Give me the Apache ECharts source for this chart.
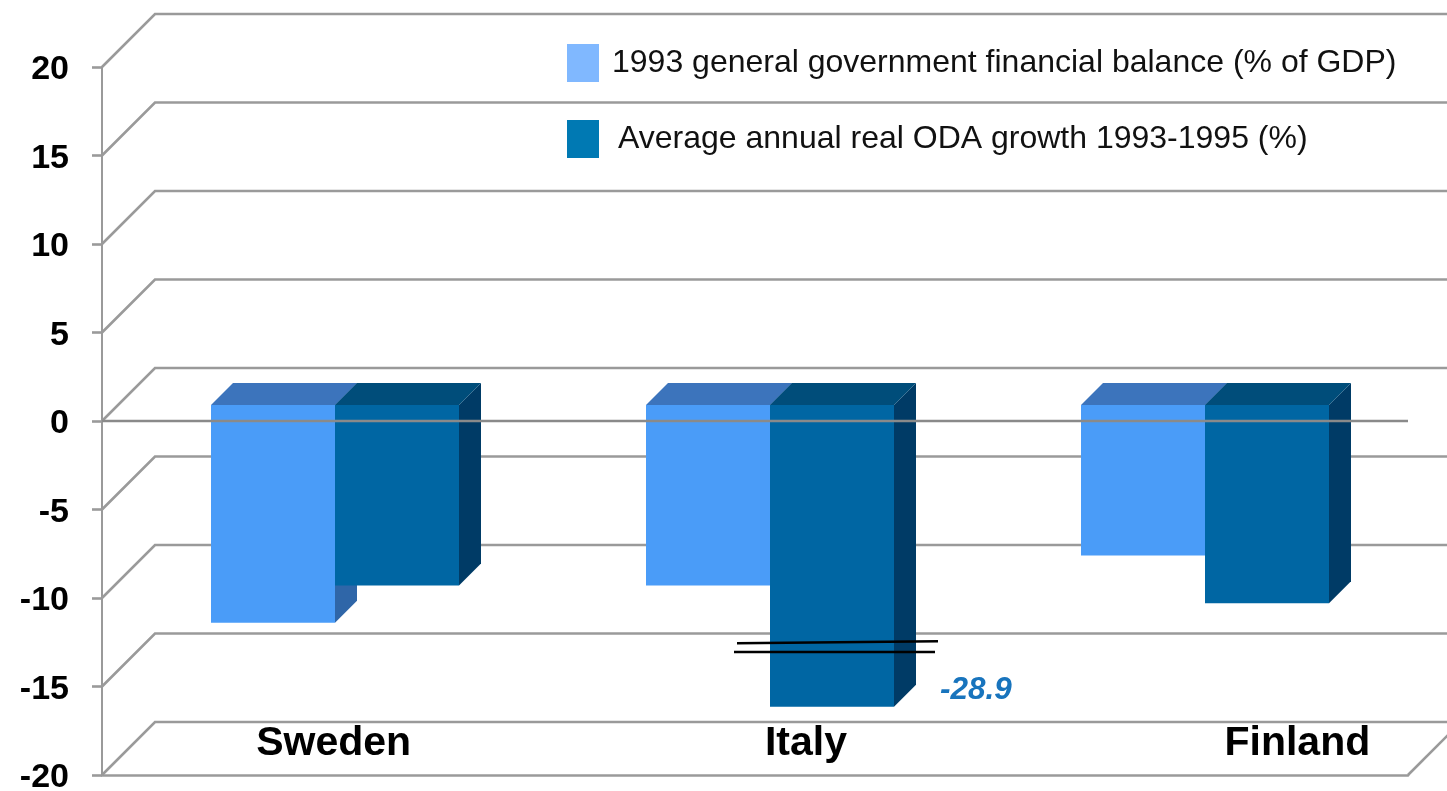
<!DOCTYPE html>
<html lang="en">
<head>
    <meta charset="UTF-8">
    <title>ODA growth and financial balance</title>
    <script src="https://cdn.jsdelivr.net/npm/echarts@6/dist/echarts.min.js"></script>
    <style>
        html, body { margin: 0; padding: 0; background: #fff; overflow: hidden; }
    </style>
</head>
<body>
<div id="main" style="width: 1447px;height:791px;"></div>
<script type="text/javascript">
    var categories = ['Sweden', 'Italy', 'Finland'];
    var balanceName = '1993 general government financial balance (% of GDP)';
    var odaName = 'Average annual real ODA growth 1993-1995 (%)';
    var balanceValues = [-12.3, -10.2, -8.5];
    // Italy's ODA bar is cut off in the picture, the real value is the label -28.9
    var odaValues = [-10.2, -17.05, -11.2];
    var tickValues = [-20, -15, -10, -5, 0, 5, 10, 15, 20];
    var brokenLabel = '-28.9';
    var brokenCategory = 1;
    var breakValues = [-12.5, -13.05];

    var font = '"Liberation Sans", Arial, sans-serif';
    var gridColor = '#9a9a9a';
    var wallDepth = 53;   // depth of the fake 3d box
    var barInset = 16;    // how far the bars sit behind the front plane
    var barDepth = 22;
    var barRatio = 124 / 435.33;

    // side: -1 = bar on the left of the category centre, 1 = on the right
    function barRenderer(side, front, top, right) {
        return function (params, api) {
            var base = api.coord([api.value(0), 0]);
            var end = api.coord([api.value(0), api.value(1)]);
            var w = Math.round(api.size([1, 0])[0] * barRatio);
            // rounded so no gap shows between the two bars
            var x0 = Math.round(base[0] + barInset - 1) + (side < 0 ? -w : 0);
            var x1 = x0 + w;
            var y0 = base[1] - barInset;
            var y1 = end[1] - barInset;
            return {
                type: 'group',
                children: [
                    {
                        type: 'polygon',
                        shape: {points: [[x1, y0], [x1 + barDepth, y0 - barDepth], [x1 + barDepth, y1 - barDepth], [x1, y1]]},
                        style: {fill: right}
                    },
                    {
                        type: 'polygon',
                        shape: {points: [[x0, y0], [x0 + barDepth, y0 - barDepth], [x1 + barDepth, y0 - barDepth], [x1, y0]]},
                        style: {fill: top}
                    },
                    {
                        type: 'rect',
                        shape: {x: x0, y: y0, width: w, height: y1 - y0},
                        style: {fill: front}
                    }
                ]
            };
        };
    }

    // back wall line + the diagonal going to the front plane
    function renderWall(params, api) {
        var cs = params.coordSys;
        var y = api.coord([0, api.value(1)])[1];
        return {
            type: 'polyline',
            shape: {points: [[cs.x, y], [cs.x + wallDepth, y - wallDepth], [cs.x + cs.width + wallDepth, y - wallDepth]]},
            style: {stroke: gridColor, lineWidth: 2.6, fill: null}
        };
    }

    function renderFloorEdge(params, api) {
        var cs = params.coordSys;
        var y = api.coord([0, api.value(1)])[1];
        var x = cs.x + cs.width;
        return {
            type: 'line',
            shape: {x1: x, y1: y, x2: x + wallDepth, y2: y - wallDepth},
            style: {stroke: gridColor, lineWidth: 2.6}
        };
    }

    function renderZero(params, api) {
        var cs = params.coordSys;
        var y = api.coord([0, api.value(1)])[1];
        return {
            type: 'line',
            shape: {x1: cs.x, y1: y, x2: cs.x + cs.width, y2: y},
            style: {stroke: '#8a8a8a', lineWidth: 2.6}
        };
    }

    function renderBreak(params, api) {
        var c = api.coord([api.value(0), api.value(1)]);
        var c2 = api.coord([api.value(0), api.value(2)]);
        return {
            type: 'group',
            children: [
                {
                    type: 'line',
                    shape: {x1: c[0] - 18, y1: c[1] + 1, x2: c[0] + 183, y2: c[1] - 1},
                    style: {stroke: '#000', lineWidth: 2.5}
                },
                {
                    type: 'line',
                    shape: {x1: c2[0] - 21, y1: c2[1], x2: c2[0] + 180, y2: c2[1]},
                    style: {stroke: '#000', lineWidth: 2.5}
                },
                {
                    type: 'text',
                    style: {
                        text: brokenLabel, x: c[0] + 185, y: c[1] + 48,
                        fontFamily: font, fontSize: 31.5, fontWeight: 'bold', fontStyle: 'italic',
                        fill: '#1874bd', textVerticalAlign: 'middle'
                    }
                }
            ]
        };
    }

    var myChart = echarts.init(document.getElementById('main'));

    var option = {
        animation: false,
        backgroundColor: '#fff',
        // the -20 label runs past the bottom edge, keep the grid where it is
        grid: {left: 102, top: 67, width: 1306, height: 708, outerBoundsMode: 'none'},
        legend: {
            orient: 'vertical',
            left: 567,
            top: 44,
            padding: 0,
            itemWidth: 32,
            itemHeight: 38,
            itemGap: 38,
            selectedMode: false,
            icon: 'rect',
            data: [
                {name: balanceName, itemStyle: {color: '#80b8ff'}},
                {name: odaName, itemStyle: {color: '#0079b3'}}
            ],
            formatter: function (name) {
                return name === odaName ? '{b|' + name + '}' : '{a|' + name + '}';
            },
            textStyle: {
                rich: {
                    a: {fontFamily: font, fontSize: 32, color: '#111', padding: [0, 0, 0, 8]},
                    b: {fontFamily: font, fontSize: 32, color: '#111', padding: [0, 0, 0, 14]}
                }
            }
        },
        xAxis: {
            type: 'category',
            data: categories,
            axisLine: {onZero: false, lineStyle: {color: gridColor, width: 2.6}},
            axisTick: {show: false},
            axisLabel: {
                inside: true,
                interval: 0,
                margin: 11,
                formatter: function (name) {
                    return '{' + name + '|' + name + '}';
                },
                rich: {
                    Sweden: {fontFamily: font, fontSize: 41, fontWeight: 'bold', color: '#000', padding: [0, 0, 0, 28]},
                    Italy: {fontFamily: font, fontSize: 41, fontWeight: 'bold', color: '#000', padding: [0, 0, 0, 102]},
                    Finland: {fontFamily: font, fontSize: 41, fontWeight: 'bold', color: '#000', padding: [0, 0, 0, 214]}
                }
            }
        },
        yAxis: {
            type: 'value',
            min: -20,
            max: 20,
            interval: 5,
            axisLine: {show: true, lineStyle: {color: gridColor, width: 2}},
            axisTick: {show: true, length: 10, lineStyle: {color: gridColor, width: 2.6}},
            splitLine: {show: false},
            axisLabel: {
                margin: 33,
                formatter: function (value) {
                    return '{v|' + value + '}';
                },
                rich: {
                    v: {fontFamily: font, fontSize: 34, fontWeight: 'bold', color: '#000', padding: [6, 0, 0, 0]}
                }
            }
        },
        series: [
            {
                name: 'wall',
                type: 'custom',
                clip: false,
                z: 1,
                silent: true,
                renderItem: renderWall,
                encode: {x: 0, y: 1},
                data: tickValues.map(function (v) { return [0, v]; })
            },
            {
                name: 'floor edge',
                type: 'custom',
                clip: false,
                z: 1,
                silent: true,
                renderItem: renderFloorEdge,
                encode: {x: 0, y: 1},
                data: [[0, tickValues[0]]]
            },
            {
                name: balanceName,
                type: 'custom',
                clip: false,
                z: 2,
                itemStyle: {color: '#80b8ff'},
                renderItem: barRenderer(-1, '#4a9cf8', '#3c74bc', '#2f66a8'),
                encode: {x: 0, y: 1},
                data: categories.map(function (c, i) { return [i, balanceValues[i]]; })
            },
            {
                name: odaName,
                type: 'custom',
                clip: false,
                z: 3,
                itemStyle: {color: '#0079b3'},
                renderItem: barRenderer(1, '#0066a3', '#004d7a', '#003b66'),
                encode: {x: 0, y: 1},
                data: categories.map(function (c, i) { return [i, odaValues[i]]; })
            },
            {
                name: 'zero',
                type: 'custom',
                clip: false,
                z: 4,
                silent: true,
                renderItem: renderZero,
                encode: {x: 0, y: 1},
                data: [[0, 0]]
            },
            {
                name: 'break',
                type: 'custom',
                clip: false,
                z: 5,
                silent: true,
                renderItem: renderBreak,
                encode: {x: 0, y: 1},
                data: [[brokenCategory, breakValues[0], breakValues[1]]]
            }
        ]
    };

    myChart.setOption(option);
</script>
</body>
</html>
